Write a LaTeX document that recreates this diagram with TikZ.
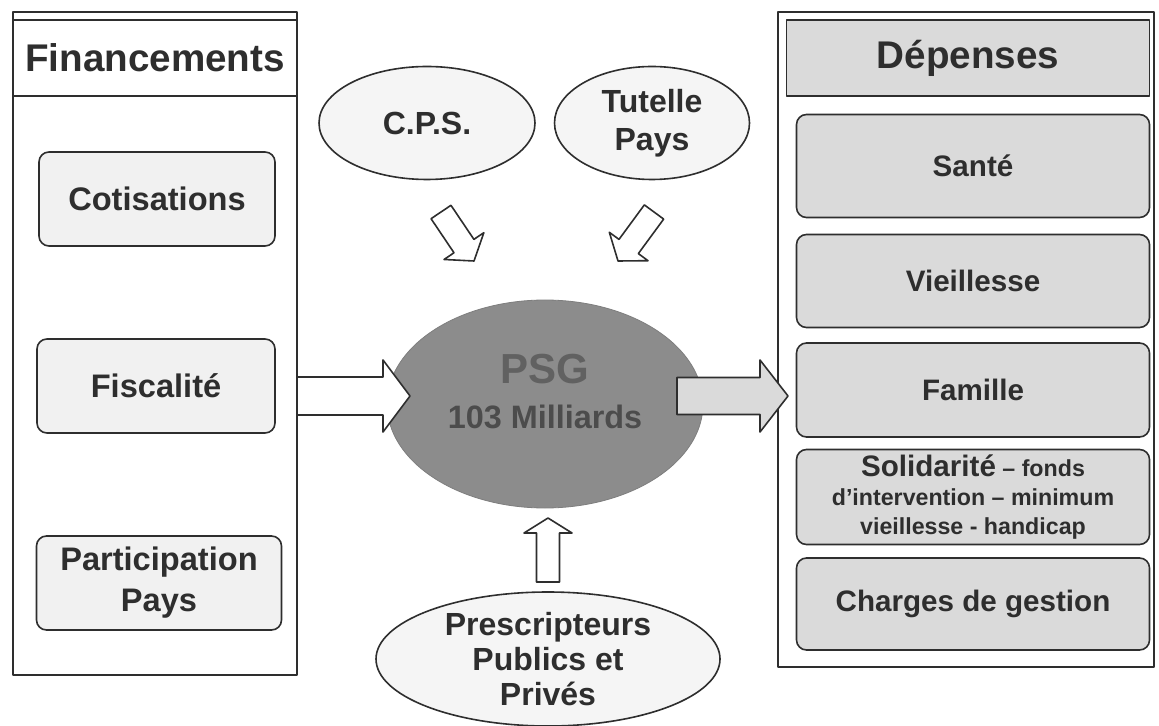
\documentclass[tikz,border=0pt]{standalone}
\usepackage{fontspec}
\setmainfont{Liberation Sans}
\usetikzlibrary{shapes.geometric,calc}

\definecolor{boxgray}{HTML}{DADADA}
\definecolor{lightbox}{HTML}{F1F1F1}
\definecolor{psggray}{HTML}{8C8C8C}
\definecolor{inkgray}{HTML}{2E2E2E}

\tikzset{
  panel/.style={draw=inkgray, line width=0.8pt},
  header/.style={draw=inkgray, line width=0.8pt, minimum height=38pt, inner sep=0pt, text=inkgray,
    font=\bfseries\fontsize{19.3}{23}\selectfont},
  leftbox/.style={draw=inkgray, line width=0.8pt, fill=lightbox, rounded corners=5pt, minimum height=47pt,
    inner sep=1pt, align=center, text=inkgray, font=\bfseries\fontsize{16.3}{20.5}\selectfont},
  rightbox/.style={draw=inkgray, line width=0.8pt, fill=boxgray, rounded corners=5pt, minimum width=176.5pt,
    inner sep=1pt, align=center, text=inkgray, font=\bfseries\fontsize{14.8}{17}\selectfont},
  oval/.style={ellipse, draw=inkgray, line width=0.8pt, fill=white!96!black, inner sep=0pt, align=center,
    text=inkgray, font=\bfseries\fontsize{16}{19}\selectfont},
  blockarrow/.style={draw=inkgray, line width=0.8pt}
}

\newcommand{\flowarrow}[7]{%
  \coordinate (#4) at ($(#3)!#7!(#2)$);
  \draw[blockarrow,#1] ($(#2)!#5!90:(#3)$) -- ($(#4)!#5!90:(#3)$) -- ($(#4)!#6!90:(#3)$) -- (#3)
    -- ($(#4)!#6!-90:(#3)$) -- ($(#4)!#5!-90:(#3)$) -- ($(#2)!#5!-90:(#3)$) -- cycle;
}

\begin{document}
\begin{tikzpicture}[line cap=round, line join=round, x=0.5pt, y=-0.5pt]

  \useasboundingbox (0,0) rectangle (1159,726);

  \draw[panel] (13,12) rectangle (297,675);
  \node[header, fill=white, minimum width=142pt] (fin) at (155,58) {Financements};
  \node[leftbox, minimum width=118pt] (cotis) at (157,199) {Cotisations};
  \node[leftbox, minimum width=119pt] (fisc) at (156,386) {Fiscalité};
  \node[leftbox, minimum width=122.5pt] (part) at (159,583) {Participation\\Pays};

  \draw[panel] (778,12) rectangle (1154,667);
  \node[header, fill=boxgray, minimum width=181.5pt] (dep) at (968,58) {Dépenses};
  \node[rightbox, minimum height=51.5pt] (sante) at (973,166) {Santé};
  \node[rightbox, minimum height=46.5pt] (vieil) at (973,281) {Vieillesse};
  \node[rightbox, minimum height=47pt] (famille) at (973,390) {Famille};
  \node[rightbox, minimum height=47.5pt, font=\bfseries\fontsize{11.6}{14.5}\selectfont] (solid) at (973,497)
    {{\fontsize{14.8}{14.5}\selectfont Solidarité} – fonds\\d’intervention – minimum\\vieillesse - handicap};
  \node[rightbox, minimum height=46pt] (charges) at (973,604) {Charges de gestion};

  \node[oval, minimum width=108pt, minimum height=56.5pt] (cps) at (427,123) {C.P.S.};
  \node[oval, minimum width=97.5pt, minimum height=56.5pt] (tutelle) at (652,123) {Tutelle\\Pays};
  \node[oval, minimum width=172pt, minimum height=67pt, font=\bfseries\fontsize{16}{17.5}\selectfont] (prescr) at (548,659)
    {Prescripteurs\\Publics et\\Privés};

  \node[ellipse, fill=psggray, draw=psggray!90!black, minimum width=158pt, minimum height=104pt] (psg) at (545,404) {};
  \node[align=center, inner sep=0pt, font=\bfseries\fontsize{16.2}{22.5}\selectfont] (psg-label) at (545,392)
    {\textcolor{black!62}{\fontsize{21}{22.5}\selectfont PSG}\\\textcolor{black!70}{103 Milliards}};

  \coordinate (in-a) at (297,396);
  \coordinate (in-b) at (410,396);
  \flowarrow{fill=white}{in-a}{in-b}{in-c}{9.5pt}{18pt}{13.5pt}
  \coordinate (out-a) at (677,396);
  \coordinate (out-b) at (788,396);
  \flowarrow{fill=boxgray}{out-a}{out-b}{out-c}{9.25pt}{18pt}{14pt}
  \coordinate (up-a) at (548,582);
  \coordinate (up-b) at (548,518);
  \flowarrow{fill=white}{up-a}{up-b}{up-c}{5.75pt}{12pt}{7.5pt}
  \coordinate (cps-a) at (441,212);
  \coordinate (cps-b) at (474,261);
  \flowarrow{fill=white}{cps-a}{cps-b}{cps-c}{6pt}{12pt}{9pt}
  \coordinate (tut-a) at (654,212);
  \coordinate (tut-b) at (618,261);
  \flowarrow{fill=white}{tut-a}{tut-b}{tut-c}{6pt}{12pt}{9pt}

\end{tikzpicture}
\end{document}
